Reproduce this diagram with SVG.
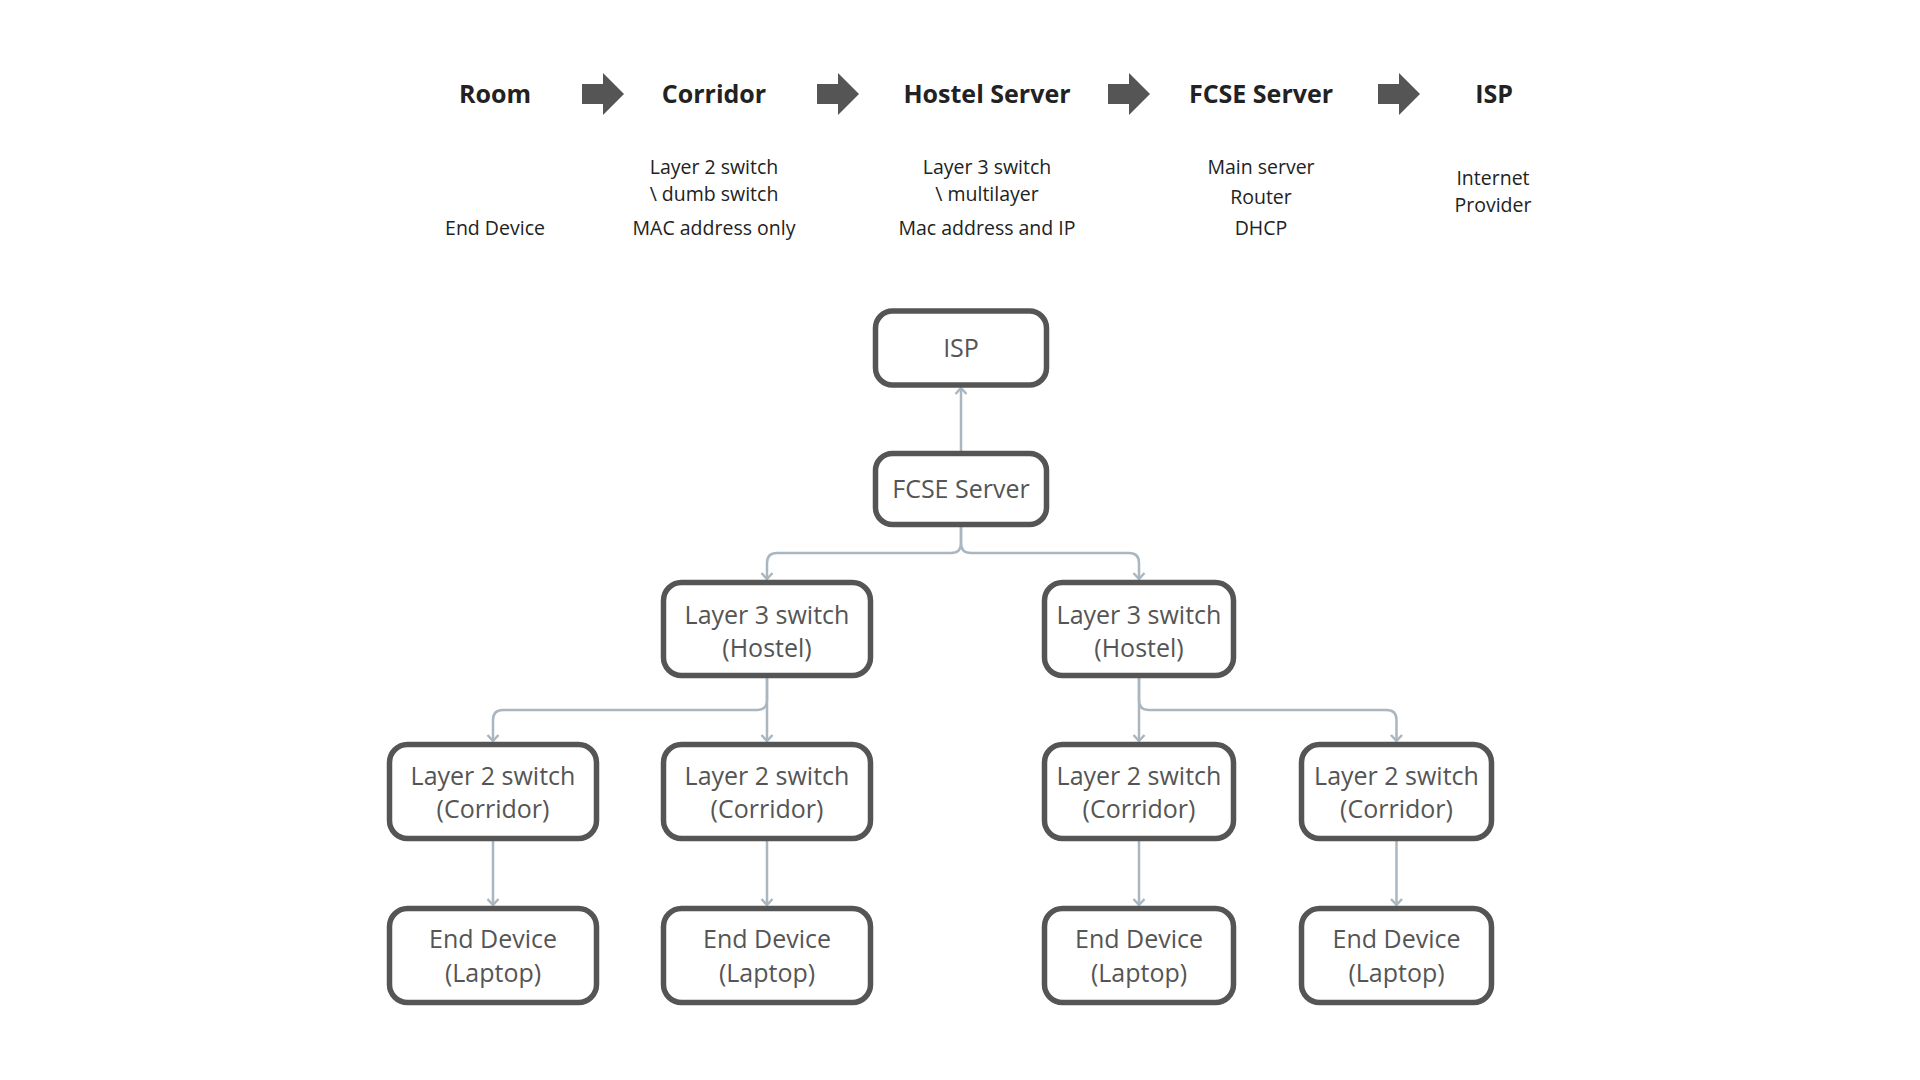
<svg xmlns="http://www.w3.org/2000/svg" width="1920" height="1080" viewBox="0 0 1920 1080">
<style>
.title{font-family:"Open Sans","Noto Sans",sans-serif;font-weight:700;font-size:25px;fill:#222;text-anchor:middle}
.sub{font-family:"Open Sans","Noto Sans",sans-serif;font-size:19.5px;fill:#222;text-anchor:middle}
.box{fill:#fff;stroke:#555;stroke-width:5.5}
.lbl{font-family:"Open Sans","Noto Sans",sans-serif;font-size:25px;fill:#555;text-anchor:middle}
.conn{fill:none;stroke:#aab7c0;stroke-width:2.5;marker-end:url(#chev)}
.harrow{fill:#555}
</style>
<defs>
<marker id="chev" viewBox="0 0 14 14" refX="12" refY="7" markerWidth="14" markerHeight="14" markerUnits="userSpaceOnUse" orient="auto">
<path d="M6,1.5 L12,7 L6,12.5" fill="none" stroke="#aab7c0" stroke-width="2.5"/>
</marker>
<path id="hArrow" d="M0,-10 H21 V-21 L42,0 L21,21 V10 H0 Z"/>
</defs>
<rect width="1920" height="1080" fill="#fff"/>

<g id="header">
<text class="title" x="495" y="103">Room</text>
<text class="title" x="714" y="103">Corridor</text>
<text class="title" x="987" y="103">Hostel Server</text>
<text class="title" x="1261" y="103">FCSE Server</text>
<text class="title" x="1494" y="103">ISP</text>
<use href="#hArrow" class="harrow" x="582" y="94"/>
<use href="#hArrow" class="harrow" x="817" y="94"/>
<use href="#hArrow" class="harrow" x="1108" y="94"/>
<use href="#hArrow" class="harrow" x="1378" y="94"/>
<text class="sub" x="495" y="235">End Device</text>
<text class="sub" x="714" y="173.5">Layer 2 switch</text>
<text class="sub" x="714" y="200.5">\ dumb switch</text>
<text class="sub" x="714" y="235">MAC address only</text>
<text class="sub" x="987" y="173.5">Layer 3 switch</text>
<text class="sub" x="987" y="200.5">\ multilayer</text>
<text class="sub" x="987" y="235">Mac address and IP</text>
<text class="sub" x="1261" y="173.5">Main server</text>
<text class="sub" x="1261" y="204">Router</text>
<text class="sub" x="1261" y="235">DHCP</text>
<text class="sub" x="1493" y="184.5">Internet</text>
<text class="sub" x="1493" y="211.5">Provider</text>
</g>

<g id="connectors">
<path class="conn" d="M961,451 V388"/>
<path class="conn" d="M961,527 V543 Q961,553 951,553 H777 Q767,553 767,563 V579"/>
<path class="conn" d="M961,527 V543 Q961,553 971,553 H1129 Q1139,553 1139,563 V579"/>
<path class="conn" d="M767,678 V741"/>
<path class="conn" d="M767,678 V700 Q767,710 757,710 H503 Q493,710 493,720 V741"/>
<path class="conn" d="M1139,678 V741"/>
<path class="conn" d="M1139,678 V700 Q1139,710 1149,710 H1386.5 Q1396.5,710 1396.5,720 V741"/>
<path class="conn" d="M493,841 V905"/>
<path class="conn" d="M767,841 V905"/>
<path class="conn" d="M1139,841 V905"/>
<path class="conn" d="M1396.5,841 V905"/>
</g>

<g id="node-isp"><rect class="box" x="875.5" y="311" width="171" height="74" rx="17"/><text class="lbl" x="961" y="357">ISP</text></g>
<g id="node-fcse"><rect class="box" x="875.5" y="453.5" width="171" height="71" rx="17"/><text class="lbl" x="961" y="497.5">FCSE Server</text></g>
<g id="node-l3-left"><rect class="box" x="663.5" y="582.5" width="207" height="93" rx="18"/><text class="lbl" x="767" y="623.5">Layer 3 switch</text><text class="lbl" x="767" y="656.5">(Hostel)</text></g>
<g id="node-l3-right"><rect class="box" x="1044.5" y="582.5" width="189" height="93" rx="18"/><text class="lbl" x="1139" y="623.5">Layer 3 switch</text><text class="lbl" x="1139" y="656.5">(Hostel)</text></g>
<g id="node-l2-1"><rect class="box" x="389.5" y="744.5" width="207" height="94" rx="18"/><text class="lbl" x="493" y="784.5">Layer 2 switch</text><text class="lbl" x="493" y="817.5">(Corridor)</text></g>
<g id="node-l2-2"><rect class="box" x="663.5" y="744.5" width="207" height="94" rx="18"/><text class="lbl" x="767" y="784.5">Layer 2 switch</text><text class="lbl" x="767" y="817.5">(Corridor)</text></g>
<g id="node-l2-3"><rect class="box" x="1044.5" y="744.5" width="189" height="94" rx="18"/><text class="lbl" x="1139" y="784.5">Layer 2 switch</text><text class="lbl" x="1139" y="817.5">(Corridor)</text></g>
<g id="node-l2-4"><rect class="box" x="1301.5" y="744.5" width="190" height="94" rx="18"/><text class="lbl" x="1396.5" y="784.5">Layer 2 switch</text><text class="lbl" x="1396.5" y="817.5">(Corridor)</text></g>
<g id="node-end-1"><rect class="box" x="389.5" y="908.5" width="207" height="94" rx="18"/><text class="lbl" x="493" y="947.5">End Device</text><text class="lbl" x="493" y="981.5">(Laptop)</text></g>
<g id="node-end-2"><rect class="box" x="663.5" y="908.5" width="207" height="94" rx="18"/><text class="lbl" x="767" y="947.5">End Device</text><text class="lbl" x="767" y="981.5">(Laptop)</text></g>
<g id="node-end-3"><rect class="box" x="1044.5" y="908.5" width="189" height="94" rx="18"/><text class="lbl" x="1139" y="947.5">End Device</text><text class="lbl" x="1139" y="981.5">(Laptop)</text></g>
<g id="node-end-4"><rect class="box" x="1301.5" y="908.5" width="190" height="94" rx="18"/><text class="lbl" x="1396.5" y="947.5">End Device</text><text class="lbl" x="1396.5" y="981.5">(Laptop)</text></g>
</svg>
